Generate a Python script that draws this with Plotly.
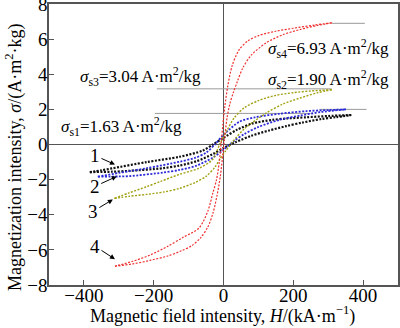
import plotly.graph_objects as go

# ---- data ----
# Loop 1 (black)
H1_desc = [366, 300, 237, 180, 140, 83, 40, 0, -30, -60, -126, -220, -317, -350, -383]
S1_desc = [1.68, 1.62, 1.55, 1.48, 1.4, 1.2, 0.85, 0.38, 0.0, -0.35, -0.7, -1.0, -1.35, -1.47, -1.57]
H1_asc = [-383, -320, -269, -174, -126, -77, -31, 0, 37, 80, 131, 180, 226, 280, 323, 366]
S1_asc = [-1.57, -1.55, -1.5, -1.35, -1.2, -0.95, -0.55, -0.2, 0.15, 0.5, 0.8, 1.05, 1.25, 1.45, 1.56, 1.68]

# Loop 2 (blue)
H2_desc = [351, 300, 237, 160, 90, 46, 0, -25, -49, -80, -126, -220, -300, -360]
S2_desc = [2.0, 1.96, 1.9, 1.75, 1.55, 1.3, 0.55, 0.0, -0.45, -0.75, -0.98, -1.35, -1.62, -1.83]
H2_asc = [-360, -300, -269, -174, -126, -77, -31, 0, 30, 60, 100, 160, 220, 280, 351]
S2_asc = [-1.83, -1.82, -1.8, -1.6, -1.45, -1.2, -0.75, -0.3, 0.2, 0.6, 1.0, 1.4, 1.65, 1.85, 2.0]

# Loop 3 (olive)
H3_desc = [310, 250, 200, 150, 100, 60, 30, 10, -10, -31, -70, -126, -180, -220, -270, -313]
S3_desc = [3.12, 3.05, 2.95, 2.8, 2.5, 2.1, 1.5, 0.8, 0.05, -0.85, -1.35, -1.7, -2.1, -2.4, -2.75, -3.07]
H3_asc = [-313, -270, -220, -170, -126, -80, -49, -25, -11, 5, 26, 60, 123, 170, 220, 270, 310]
S3_asc = [-3.07, -2.95, -2.84, -2.7, -2.5, -2.15, -1.8, -1.3, -0.85, -0.4, 0.15, 0.9, 1.8, 2.3, 2.65, 2.95, 3.12]

# Loop 4 (red)
H4_desc = [310, 260, 200, 150, 100, 70, 45, 25, 12, 4, 0, -7, -12, -20, -31, -45, -70, -117, -160, -211, -260, -311]
S4_desc = [6.93, 6.8, 6.62, 6.45, 6.2, 5.9, 5.4, 4.5, 3.3, 2.2, 1.5, 0.0, -1.0, -2.0, -2.8, -3.8, -4.75, -5.3, -5.8, -6.3, -6.65, -6.93]
H4_asc = [-311, -260, -211, -160, -120, -90, -65, -45, -30, -18, -9, -2, 4, 10, 18, 28, 40, 55, 80, 123, 170, 220, 270, 310]
S4_asc = [-6.93, -6.8, -6.6, -6.35, -6.05, -5.75, -5.3, -4.7, -3.9, -2.85, -1.8, -0.6, 0.5, 1.5, 2.3, 2.95, 3.6, 4.35, 5.1, 5.8, 6.25, 6.55, 6.78, 6.93]

# Saturation reference lines: H start, H end, sigma
ref_H0 = [-197, 275, -191, 310]
ref_H1 = [250, 410, 310, 405]
ref_S = [1.77, 2.0, 3.17, 6.9]

# Saturation labels
sat_labels = ["<i>σ</i><sub>s1</sub>=1.63 A·m<sup>2</sup>/kg",
              "<i>σ</i><sub>s2</sub>=1.90 A·m<sup>2</sup>/kg",
              "<i>σ</i><sub>s3</sub>=3.04 A·m<sup>2</sup>/kg",
              "<i>σ</i><sub>s4</sub>=6.93 A·m<sup>2</sup>/kg"]
sat_label_H = [-472, 123, -417, 123]
sat_label_S = [1.03, 3.72, 3.9, 5.45]

# Curve number labels (arrow tip positions)
num_labels = ["1", "2", "3", "4"]
num_tip_H = [-311, -306, -317, -311]
num_tip_S = [-1.14, -1.82, -3.13, -6.53]
num_ax = [-20, -22, -20, -20]
num_ay = [-9, 10, 12, -13]

x_ticks = [-400, -200, 0, 200, 400]
y_ticks = [-8, -6, -4, -2, 0, 2, 4, 6, 8]

FONT = "Liberation Serif"

fig = go.Figure()

for h0, h1, s in zip(ref_H0, ref_H1, ref_S):
    fig.add_trace(go.Scatter(x=[h0, h1], y=[s, s], mode="lines",
                             line=dict(color="#9a9a9a", width=1), hoverinfo="skip"))

loops = [
    (H1_desc, S1_desc, H1_asc, S1_asc, "#111111", 2.2, "2px,1.5px"),
    (H2_desc, S2_desc, H2_asc, S2_asc, "#2a2ad8", 1.8, "2px,1.5px"),
    (H3_desc, S3_desc, H3_asc, S3_asc, "#a0a010", 1.4, "2px,1.5px"),
    (H4_desc, S4_desc, H4_asc, S4_asc, "#ee3030", 1.2, "2px,1.5px"),
]
for hd, sd, ha, sa, col, w, dash in loops:
    for hx, sy in ((hd, sd), (ha, sa)):
        fig.add_trace(go.Scatter(x=hx, y=sy, mode="lines",
                                 line=dict(color=col, width=w, dash=dash,
                                           shape="spline", smoothing=0.8)))

annotations = []
for t, hx, sy in zip(sat_labels, sat_label_H, sat_label_S):
    annotations.append(dict(x=hx, y=sy, xref="x", yref="y", text=t, showarrow=False,
                            xanchor="left", yanchor="middle",
                            font=dict(family=FONT, size=17, color="black")))
for t, hx, sy, ax, ay in zip(num_labels, num_tip_H, num_tip_S, num_ax, num_ay):
    annotations.append(dict(x=hx, y=sy, xref="x", yref="y", text=t, showarrow=True,
                            ax=ax, ay=ay, arrowhead=2, arrowsize=1, arrowwidth=1,
                            arrowcolor="black", standoff=0,
                            font=dict(family=FONT, size=19, color="black")))

PLOT_L, PLOT_R, PLOT_T, PLOT_B = 49, 398, 4, 285
PW, PH = PLOT_R - PLOT_L, PLOT_B - PLOT_T
annotations.append(dict(x=(222 - PLOT_L) / PW, y=(PLOT_B - 315) / PH, xref="paper", yref="paper",
                        text="Magnetic field intensity, <i>H</i>/(kA·m<sup>−1</sup>)",
                        showarrow=False, xanchor="center", yanchor="middle",
                        font=dict(family=FONT, size=18, color="black")))
annotations.append(dict(x=(14 - PLOT_L) / PW, y=(PLOT_B - 158) / PH, xref="paper", yref="paper",
                        text="Magnetization intensity, <i>σ</i>/(A·m<sup>2</sup>·kg)",
                        showarrow=False, textangle=-90, xanchor="center", yanchor="middle",
                        font=dict(family=FONT, size=18, color="black")))

axis_common = dict(showgrid=False, zeroline=True, zerolinecolor="#555555", zerolinewidth=1,
                   showline=True, mirror=True, linecolor="#555555", linewidth=1.5,
                   ticks="inside", ticklen=5, tickwidth=1.2, tickcolor="#555555",
                   ticklabeloverflow="allow",
                   tickfont=dict(family=FONT, size=19, color="black"))

fig.update_layout(
    width=400, height=328,
    margin=dict(l=PLOT_L, r=400 - PLOT_R, t=PLOT_T, b=328 - PLOT_B, autoexpand=False),
    plot_bgcolor="white", paper_bgcolor="white",
    showlegend=False,
    font=dict(family=FONT, size=18, color="black"),
    xaxis=dict(range=[-500, 500], tickvals=x_ticks, ticklabelstandoff=-8, **axis_common),
    yaxis=dict(range=[-8, 8], tickvals=y_ticks, ticklabelstandoff=-4, **axis_common),
    annotations=annotations,
)

fig.write_html("out.html")
